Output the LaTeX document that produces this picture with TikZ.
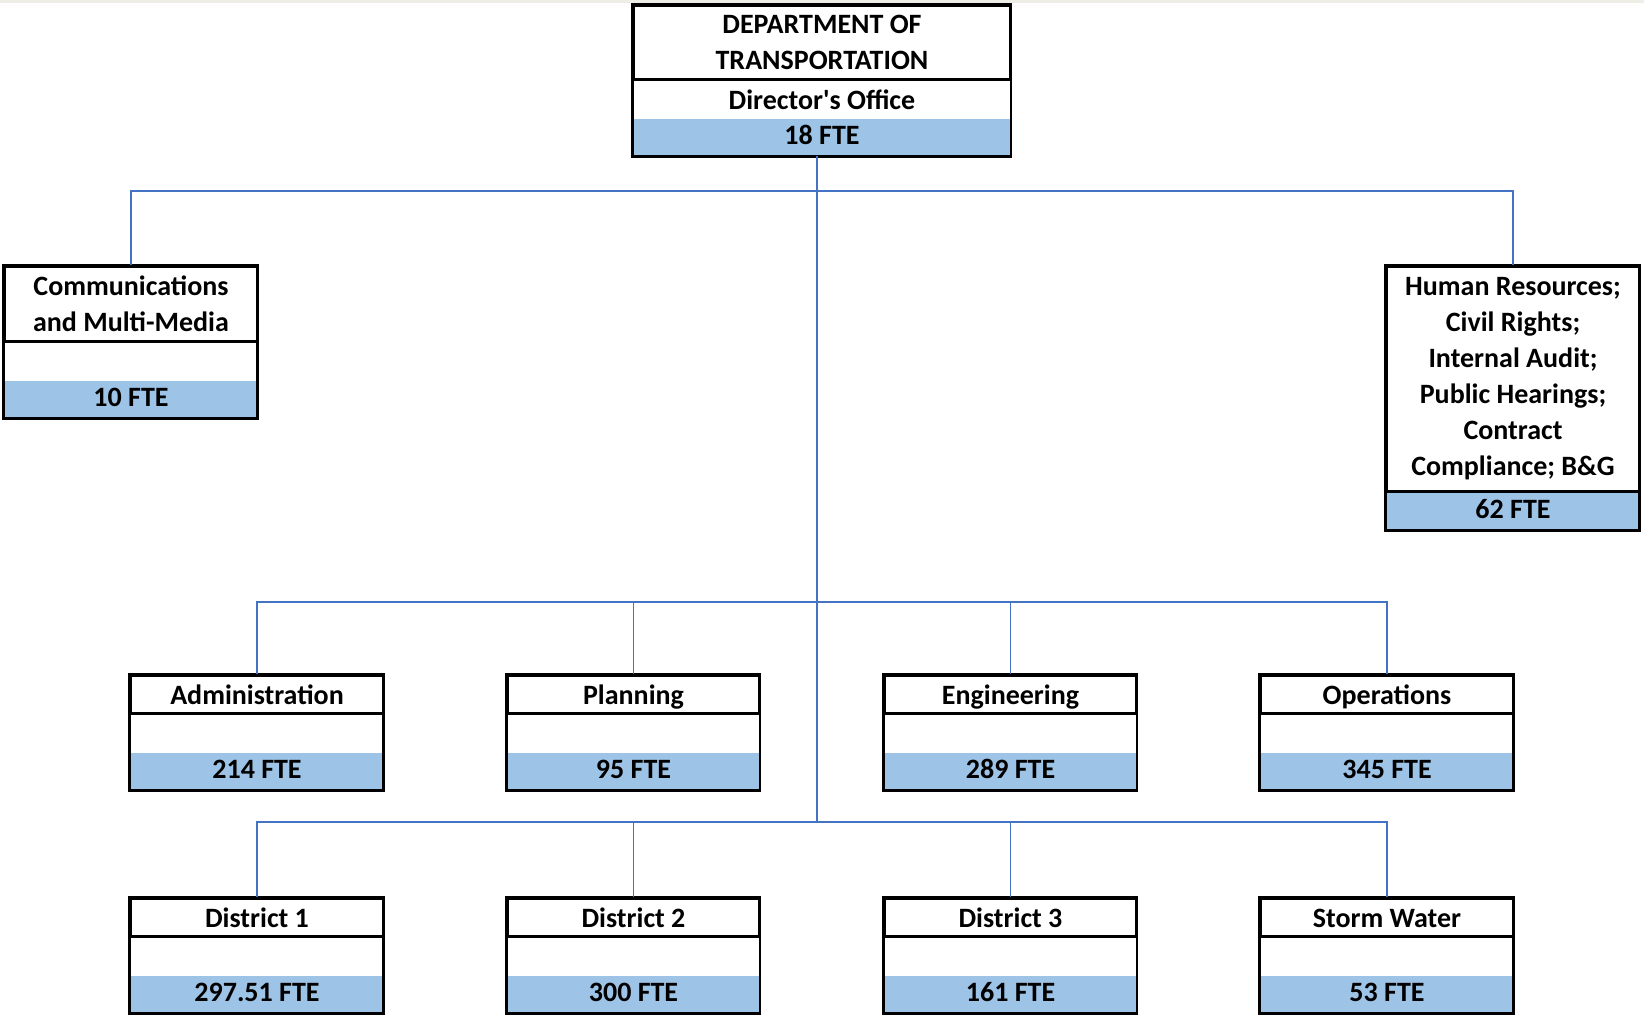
\documentclass[tikz,border=0pt]{standalone}
\usepackage{fontspec}
\setmainfont{Carlito}
\usepackage{tikz}
\usetikzlibrary{positioning}
\definecolor{fteblue}{HTML}{9DC3E6}
\definecolor{linkblue}{HTML}{4472C4}
\definecolor{topband}{HTML}{EEEEE6}

\begin{document}
\begin{tikzpicture}[x=0.5pt, y=-0.5pt]
    \tikzstyle{head} = [draw, line width=1.4pt, minimum width=126pt, minimum height=19pt,
	inner sep=0pt, anchor=north, align=center, font=\fontsize{14}{18}\selectfont\bfseries]
    \tikzstyle{single} = [text height=12pt, text depth=2pt]
    \tikzstyle{gap} = [text height=9.5pt, text depth=3pt, minimum width=126pt, minimum height=18.5pt,
	inner sep=0pt, font=\fontsize{14}{18}\selectfont\bfseries]
    \tikzstyle{fte} = [gap, fill=fteblue]
    \tikzstyle{frame} = [draw, line width=1.4pt]
    \tikzstyle{link} = [draw=linkblue, line width=0.9pt]

    \useasboundingbox (0,0) rectangle (1644,1019);
    \fill[topband] (0,0) rectangle (1644,3);

		\path
			node[head, minimum width=188.5pt, minimum height=37pt] (dot) at (822,4) {DEPARTMENT OF\\TRANSPORTATION}
			node[gap, single, minimum width=188.5pt, below=0pt of dot] (dotm) {Director\textquotesingle s Office}
			node[fte, minimum width=188.5pt, below=0pt of dotm] (dotf) {18 FTE}

			node[head, minimum height=37.5pt] (comm) at (131,265) {Communications\\and Multi-Media}
			node[gap, below=0pt of comm] (commm) {}
			node[fte, below=0pt of commm] (commf) {10 FTE}

			node[head, minimum height=112.5pt] (hr) at (1513,265) {Human Resources;\\Civil Rights;\\Internal Audit;\\Public Hearings;\\Contract\\Compliance; B\&G}
			node[fte, below=0pt of hr] (hrf) {62 FTE}

			node[head, single] (adm) at (257,674) {Administration}
			node[gap, below=0pt of adm] (admm) {}
			node[fte, below=0pt of admm] (admf) {214 FTE}
			node[head, single] (plan) at (633.5,674) {Planning}
			node[gap, below=0pt of plan] (planm) {}
			node[fte, below=0pt of planm] (planf) {95 FTE}
			node[head, single] (eng) at (1010.5,674) {Engineering}
			node[gap, below=0pt of eng] (engm) {}
			node[fte, below=0pt of engm] (engf) {289 FTE}
			node[head, single] (ops) at (1387,674) {Operations}
			node[gap, below=0pt of ops] (opsm) {}
			node[fte, below=0pt of opsm] (opsf) {345 FTE}

			node[head, single] (dist1) at (257,897) {District 1}
			node[gap, below=0pt of dist1] (dist1m) {}
			node[fte, below=0pt of dist1m] (dist1f) {297.51 FTE}
			node[head, single] (dist2) at (633.5,897) {District 2}
			node[gap, below=0pt of dist2] (dist2m) {}
			node[fte, below=0pt of dist2m] (dist2f) {300 FTE}
			node[head, single] (dist3) at (1010.5,897) {District 3}
			node[gap, below=0pt of dist3] (dist3m) {}
			node[fte, below=0pt of dist3m] (dist3f) {161 FTE}
			node[head, single] (storm) at (1387,897) {Storm Water}
			node[gap, below=0pt of storm] (stormm) {}
			node[fte, below=0pt of stormm] (stormf) {53 FTE}
		;

		% outer frames
		\draw[frame] (dot.north west) rectangle (dotf.south east);
		\draw[frame] (comm.north west) rectangle (commf.south east);
		\draw[frame] (hr.north west) rectangle (hrf.south east);
		\draw[frame] (adm.north west) rectangle (admf.south east);
		\draw[frame] (plan.north west) rectangle (planf.south east);
		\draw[frame] (eng.north west) rectangle (engf.south east);
		\draw[frame] (ops.north west) rectangle (opsf.south east);
		\draw[frame] (dist1.north west) rectangle (dist1f.south east);
		\draw[frame] (dist2.north west) rectangle (dist2f.south east);
		\draw[frame] (dist3.north west) rectangle (dist3f.south east);
		\draw[frame] (storm.north west) rectangle (stormf.south east);

		% connectors
		\coordinate (bus1) at (817,191);
		\coordinate (bus2) at (817,602);
		\coordinate (bus3) at (817,822);
		\draw[link] (dotf.south -| bus3) -- (bus3);
		\draw[link] (comm.north) |- (bus1) -| (hr.north);
		\draw[link] (adm.north) |- (bus2) -| (ops.north);
		\draw[link] (plan.north) -- (plan.north |- bus2);
		\draw[link] (eng.north) -- (eng.north |- bus2);
		\draw[link] (dist1.north) |- (bus3) -| (storm.north);
		\draw[link] (dist2.north) -- (dist2.north |- bus3);
		\draw[link] (dist3.north) -- (dist3.north |- bus3);

\end{tikzpicture}
\end{document}
